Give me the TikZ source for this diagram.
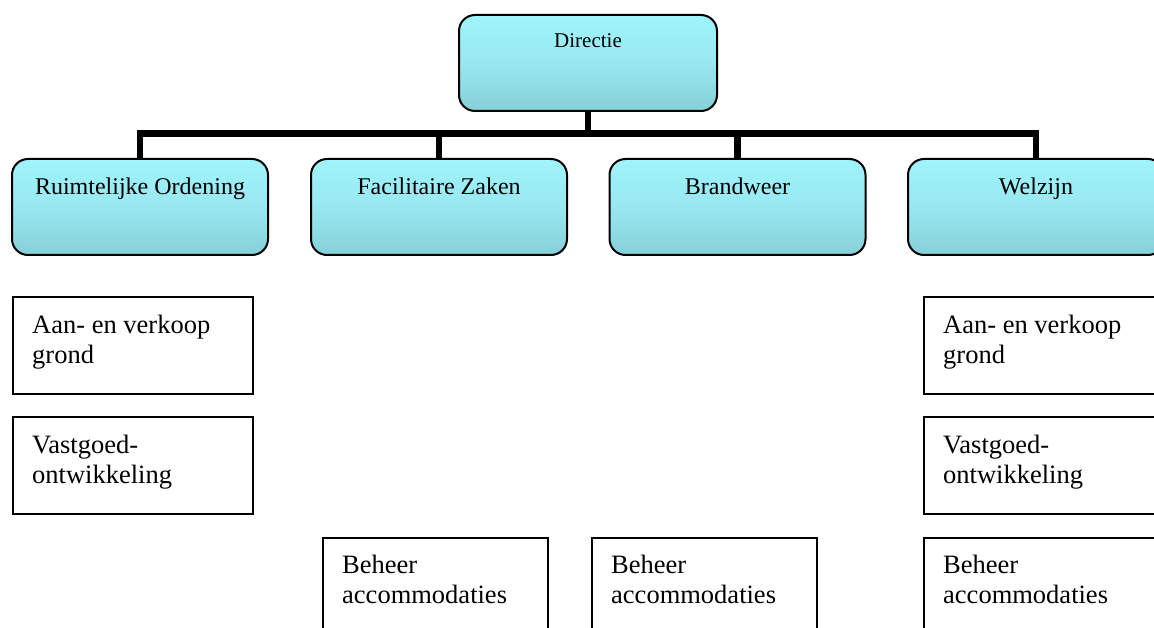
\documentclass[tikz,border=0pt]{standalone}
\usepackage{fontspec}
\setmainfont{Liberation Serif}
\definecolor{boxtop}{RGB}{160,244,252}
\definecolor{boxmid}{RGB}{152,232,240}
\definecolor{boxbot}{RGB}{134,208,216}
\tikzset{
  unitbox/.style={draw=black, line width=2pt, rounded corners=16pt,
    top color=boxtop, bottom color=boxbot, middle color=boxmid,
    minimum width=256pt, minimum height=96pt, inner sep=0pt},
  taskbox/.style={draw=black, line width=2pt, fill=white,
    minimum height=97pt, inner sep=0pt, anchor=north west},
  unitlabel/.style={anchor=base, font=\fontsize{24}{28}\selectfont, inner sep=0pt},
  toplabel/.style={anchor=base, font=\fontsize{21}{25}\selectfont, inner sep=0pt},
  tasklabel/.style={anchor=base west, align=left, inner sep=0pt,
    font=\fontsize{26.5}{29.5}\selectfont},
  conn/.style={draw=black, line width=6.5pt, line join=miter}
}
\begin{document}
\begin{tikzpicture}[x=1pt, y=-1pt]
\useasboundingbox (0,0) rectangle (1154,628);
\clip (0,0) rectangle (1154,628);

% top of the organisation
\node[unitbox, minimum width=258pt] (dir) at (588,63) {};
\node[toplabel] (dirlbl) at (588,48) {Directie};

% departments
\node[unitbox] (ro) at (140,207) {};
\node[unitbox] (fz) at (439,207) {};
\node[unitbox] (bw) at (737.5,207) {};
\node[unitbox] (wz) at (1036,207) {};
\node[unitlabel] (rolbl) at (140,195) {Ruimtelijke Ordening};
\node[unitlabel] (fzlbl) at (439,195) {Facilitaire Zaken};
\node[unitlabel] (bwlbl) at (737.5,195) {Brandweer};
\node[unitlabel] (wzlbl) at (1036,195) {Welzijn};

% connector bar
\coordinate (bar) at (588,133.5);
\draw[conn] (dir.south) -- (dir.south |- bar);
\draw[conn] (ro.north) -- (ro.north |- bar) -- (wz.north |- bar) -- (wz.north);
\draw[conn] (fz.north) -- (fz.north |- bar);
\draw[conn] (bw.north) -- (bw.north |- bar);

% tasks, left column
\node[taskbox, minimum width=240pt] (ro1) at (12,296) {};
\node[taskbox, minimum width=240pt] (ro2) at (12,416) {};
\node[tasklabel] (ro1lbl) at (32,363) {Aan- en verkoop\\grond};
\node[tasklabel] (ro2lbl) at (32,483) {Vastgoed-\\ontwikkeling};

% tasks, middle columns
\node[taskbox, minimum width=225pt] (fz1) at (322,537) {};
\node[taskbox, minimum width=225pt] (bw1) at (591,537) {};
\node[tasklabel] (fz1lbl) at (342,603) {Beheer\\accommodaties};
\node[tasklabel] (bw1lbl) at (611,603) {Beheer\\accommodaties};

% tasks, right column
\node[taskbox, minimum width=240pt] (wz1) at (923,296) {};
\node[taskbox, minimum width=240pt] (wz2) at (923,416) {};
\node[taskbox, minimum width=240pt] (wz3) at (923,537) {};
\node[tasklabel] (wz1lbl) at (943,363) {Aan- en verkoop\\grond};
\node[tasklabel] (wz2lbl) at (943,483) {Vastgoed-\\ontwikkeling};
\node[tasklabel] (wz3lbl) at (943,603) {Beheer\\accommodaties};
\end{tikzpicture}
\end{document}
